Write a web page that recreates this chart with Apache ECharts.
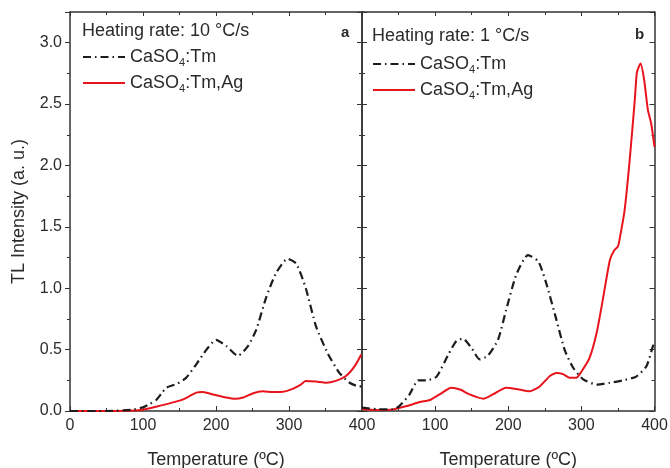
<!DOCTYPE html>
<html><head><meta charset="utf-8">
<script src="https://cdn.jsdelivr.net/npm/echarts@6/dist/echarts.min.js"></script>
<style>html,body{margin:0;padding:0;background:#fff}#c{width:670px;height:468px}</style>
</head><body><div id="c"></div>
<script>
// Panel a (10 °C/s)
const aTmT = [0,50,85,100,110,118,125,132,146,159,173,187,200,214,230,244,255,269,282,298,310,323,337,353,369,383,396,400];
const aTmI = [0,0,0.01,0.03,0.06,0.09,0.14,0.19,0.22,0.27,0.38,0.5,0.58,0.53,0.45,0.53,0.66,0.93,1.12,1.24,1.2,1.0,0.69,0.47,0.31,0.23,0.2,0.2];
const aAgT = [0,50,90,100,118,141,155,173,182,196,214,226,237,251,264,278,292,305,315,323,337,351,364,378,390,399];
const aAgI = [0,0,0.005,0.01,0.035,0.07,0.095,0.15,0.155,0.135,0.11,0.1,0.11,0.145,0.16,0.155,0.157,0.18,0.21,0.245,0.24,0.23,0.245,0.285,0.365,0.46];
// Panel b (1 °C/s)
const bTmT = [0,1,20,42,51,65,77,88,102,118,129,138,150,161,172,186,197,211,227,241,252,266,277,289,302,321,339,357,375,389,398,400];
const bTmI = [0.03,0.027,0.015,0.013,0.04,0.135,0.25,0.25,0.28,0.46,0.57,0.59,0.51,0.42,0.45,0.58,0.82,1.11,1.27,1.22,1.04,0.74,0.5,0.35,0.26,0.215,0.23,0.25,0.28,0.365,0.53,0.55];
const bAgT = [0,1,24,42,61,79,93,106,122,134,147,166,179,197,211,229,243,257,266,275,284,293,300,311,321,330,339,345,350,352,359,366,373,376,381,386,391,395.5,400];
const bAgI = [0.015,0.014,0.008,0.013,0.04,0.073,0.09,0.135,0.19,0.175,0.135,0.1,0.135,0.19,0.18,0.16,0.2,0.285,0.31,0.3,0.27,0.27,0.32,0.43,0.64,0.93,1.23,1.31,1.34,1.39,1.63,2.04,2.53,2.76,2.83,2.69,2.45,2.34,2.15];

const NAME_TM = 'CaSO4:Tm', NAME_AG = 'CaSO4:Tm,Ag';
const pairs = (t, v) => t.map((x, i) => [x, v[i]]);
const FONT = 'Liberation Sans, Arial, sans-serif';
const TXT = '#2b2b2b';

const grids = [
  {left: 70, top: 12, width: 292, height: 399, containLabel: false, outerBoundsMode: 'none'},
  {left: 362, top: 12, width: 292.5, height: 399, containLabel: false, outerBoundsMode: 'none'}
];
const axLine = {show: true, onZero: false, lineStyle: {color: '#333', width: 1.5}};
function xBottom(g, showMin) {
  return {type: 'value', gridIndex: g, min: 0, max: 400, interval: 100, position: 'bottom',
    axisLine: axLine, axisTick: {inside: true, length: 5, lineStyle: {color: '#333'}},
    minorTick: {show: true, splitNumber: 2, length: 3, lineStyle: {color: '#333'}},
    splitLine: {show: false},
    axisLabel: {fontSize: 16, color: TXT, fontFamily: FONT, margin: 7, showMinLabel: showMin},
    name: 'Temperature (ºC)', nameLocation: 'middle', nameGap: 40,
    nameTextStyle: {fontSize: 18, color: TXT, fontFamily: FONT}};
}
function xTop(g) {
  return {type: 'value', gridIndex: g, min: 0, max: 400, interval: 100, position: 'top',
    axisLine: axLine, axisTick: {inside: true, length: 4, lineStyle: {color: '#333'}},
    minorTick: {show: true, splitNumber: 2, length: 3, lineStyle: {color: '#333'}},
    splitLine: {show: false}, axisLabel: {show: false}};
}
function yAxis(g, pos, labels, inside) {
  const o = {type: 'value', gridIndex: g, min: 0, max: 3.25, interval: 0.5, position: pos,
    axisLine: axLine, axisTick: {inside: inside, length: 5, lineStyle: {color: '#333'}},
    minorTick: {show: true, splitNumber: 2, length: 3, lineStyle: {color: '#333'}},
    splitLine: {show: false},
    axisLabel: {show: labels, fontSize: 16, color: TXT, fontFamily: FONT, margin: 8,
      showMaxLabel: false, formatter: v => v.toFixed(1)}};
  if (labels) {
    o.name = 'TL Intensity (a. u.)'; o.nameLocation = 'middle'; o.nameGap = 42;
    o.nameTextStyle = {fontSize: 18, color: TXT, fontFamily: FONT};
  }
  return o;
}

const legendRich = {
  n: {fontSize: 18, color: TXT, fontFamily: FONT, lineHeight: 22},
  s: {fontSize: 11, color: TXT, fontFamily: FONT, lineHeight: 22, verticalAlign: 'bottom', padding: [8, 0, 0, 0]}
};
const legendFmt = name => name === NAME_TM ? '{n|CaSO}{s|4}{n|:Tm}' : '{n|CaSO}{s|4}{n|:Tm,Ag}';
function legend(left, top, w) {
  return {orient: 'vertical', left: left, top: top, itemWidth: w, itemHeight: 14, itemGap: 6,
    selectedMode: false, data: [NAME_TM, NAME_AG], formatter: legendFmt,
    itemStyle: {opacity: 0, borderWidth: 0},
    textStyle: {rich: legendRich}};
}

const tmStyle = {color: '#1c1c1c', width: 2.2, type: [8, 4, 1.5, 4]};
const agStyle = {color: '#e8141c', width: 2};
function ser(name, data, xi, yi, ls) {
  return {type: 'line', name: name, data: data, xAxisIndex: xi, yAxisIndex: yi,
    showSymbol: false, symbol: 'none', smooth: 0.2, lineStyle: ls, itemStyle: {color: ls.color},
    animation: false, z: name === NAME_TM ? 3 : 2};
}

const chart = echarts.init(document.getElementById('c'), null, {renderer: 'canvas'});
chart.setOption({
  backgroundColor: '#fff',
  animation: false,
  grid: grids,
  title: [
    {text: 'Heating rate: 10 °C/s', left: 77, top: 17, textStyle: {fontSize: 18, fontWeight: 'normal', color: TXT, fontFamily: FONT}},
    {text: 'a', left: 336, top: 20, textStyle: {fontSize: 15, fontWeight: 'bold', color: TXT, fontFamily: FONT}},
    {text: 'Heating rate: 1 °C/s', left: 367, top: 22, textStyle: {fontSize: 18, fontWeight: 'normal', color: TXT, fontFamily: FONT}},
    {text: 'b', left: 630, top: 22, textStyle: {fontSize: 15, fontWeight: 'bold', color: TXT, fontFamily: FONT}}
  ],
  legend: [legend(77, 43, 42), legend(367, 50, 42)],
  xAxis: [xBottom(0, true), xTop(0), xBottom(1, false), xTop(1)],
  yAxis: [yAxis(0, 'left', true, false), yAxis(0, 'right', false, true), yAxis(1, 'left', false, true), yAxis(1, 'right', false, true)],
  series: [
    ser(NAME_TM, pairs(aTmT, aTmI), 0, 0, tmStyle),
    ser(NAME_AG, pairs(aAgT, aAgI), 0, 0, agStyle),
    ser(NAME_TM, pairs(bTmT, bTmI), 2, 2, tmStyle),
    ser(NAME_AG, pairs(bAgT, bAgI), 2, 2, agStyle)
  ]
});
</script></body></html>
